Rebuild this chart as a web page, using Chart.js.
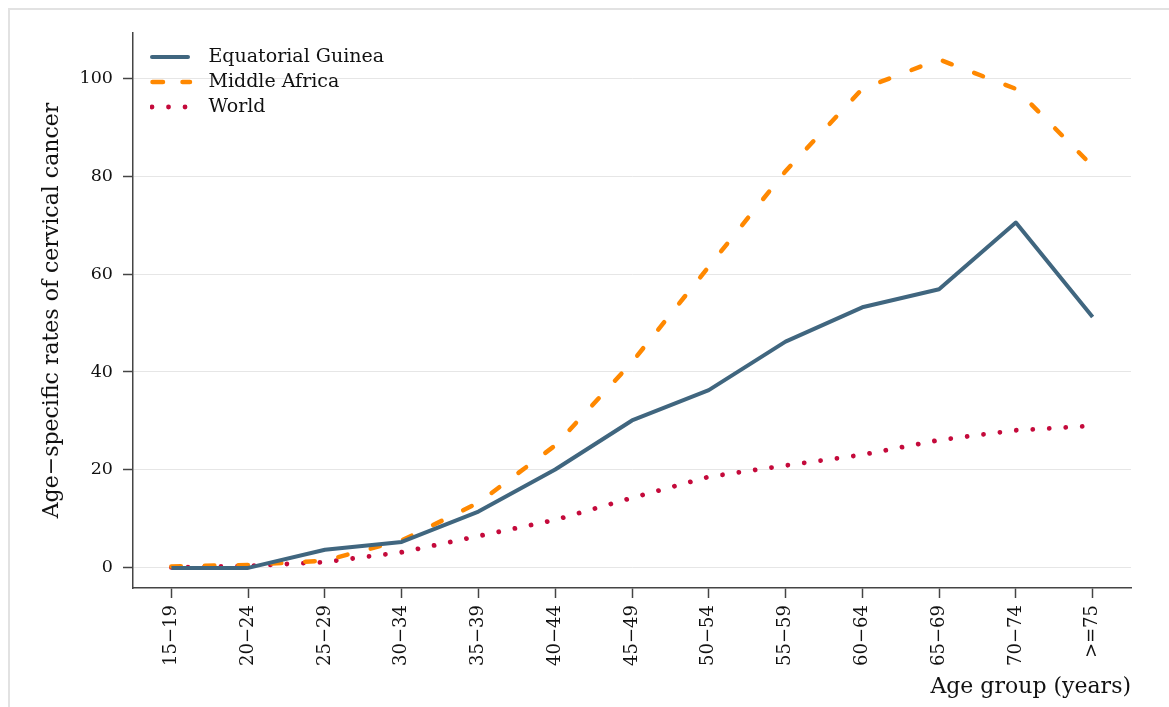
<!DOCTYPE html>
<html>
<head>
<meta charset="utf-8">
<script src="https://cdn.jsdelivr.net/npm/chart.js@4.4.1/dist/chart.umd.min.js"></script>
<style>
  html, body { margin: 0; padding: 0; background: #fff; overflow: hidden; }
  #clip { position: absolute; left: 0; top: 0; width: 1169px; height: 707px; overflow: hidden; }
  #frame { position: absolute; left: 8px; top: 8px; width: 1400px; height: 900px;
           border-left: 2px solid #e2e2e2; border-top: 2px solid #e2e2e2; }
  #wrap { position: absolute; left: 0; top: 0; width: 1169px; height: 707px; }
</style>
</head>
<body>
<div id="clip">
  <div id="frame"></div>
  <div id="wrap"><canvas id="chart"></canvas></div>
</div>
<script>
// age groups on the x axis
const ageGroups = ['15−19', '20−24', '25−29', '30−34', '35−39', '40−44', '45−49',
                   '50−54', '55−59', '60−64', '65−69', '70−74', '>=75'];

// rates per 100,000
const eqGuinea     = [0.0, 0.0, 3.7, 5.3, 11.5, 20.1, 30.1, 36.3, 46.2, 53.2, 56.9, 70.5, 51.2];
const middleAfrica = [0.3, 0.6, 1.5, 5.6, 13.3, 25.0, 42.0, 61.5, 81.0, 97.8, 103.8, 97.8, 82.0];
const world        = [0.1, 0.4, 1.2, 3.2, 6.5, 9.8, 14.3, 18.6, 20.9, 23.1, 26.1, 28.1, 29.0];

const yTicks = [0, 20, 40, 60, 80, 100];

const FONT = '"DejaVu Serif", serif';
const NAVY = '#40667f';
const ORANGE = '#ff8800';
const CRIMSON = '#c40a3b';

// small legend samples, so the text sits where it does in the original
const makeSample = (color, width, dash, cap, x0, x1) => {
    const c = document.createElement('canvas');
    c.width = 49;
    c.height = 10;
    const g = c.getContext('2d');
    g.strokeStyle = color;
    g.lineWidth = width;
    g.lineCap = cap;
    g.setLineDash(dash);
    g.beginPath();
    g.moveTo(x0, 5);
    g.lineTo(x1, 5);
    g.stroke();
    return c;
};

const samples = [
    makeSample(NAVY, 4, [], 'round', 2, 38),
    makeSample(ORANGE, 4.5, [10.5, 19.5], 'round', 2.5, 40),
    makeSample(CRIMSON, 4.8, [0.01, 16.5], 'round', 2, 40)
];

// move the legend inside the plot, top-left
const legendPos = {
    id: 'legendPos',
    afterLayout(chart) {
        const lg = chart.legend;
        const ca = chart.chartArea;
        lg.left = ca.left + 11;
        lg.top = ca.top + 8.5;
        lg.right = lg.left + lg.width;
        lg.bottom = lg.top + lg.height;
    }
};

const ctx = document.getElementById('chart').getContext('2d');
new Chart(ctx, {
    type: 'line',
    data: {
        labels: ageGroups,
        datasets: [
            {
                label: 'Equatorial Guinea',
                data: eqGuinea,
                borderColor: NAVY,
                backgroundColor: NAVY,
                borderWidth: 4,
                pointRadius: 0,
                tension: 0,
                borderJoinStyle: 'round'
            },
            {
                label: 'Middle Africa',
                data: middleAfrica,
                borderColor: ORANGE,
                backgroundColor: ORANGE,
                borderWidth: 4.5,
                borderDash: [9.5, 24],
                borderCapStyle: 'round',
                pointRadius: 0,
                tension: 0
            },
            {
                label: 'World',
                data: world,
                borderColor: CRIMSON,
                backgroundColor: CRIMSON,
                borderWidth: 4.8,
                borderDash: [0.01, 16.5],
                borderCapStyle: 'round',
                pointRadius: 0,
                tension: 0
            }
        ]
    },
    options: {
        responsive: true,
        maintainAspectRatio: false,
        animation: false,
        layout: { padding: { left: 0, top: 33, right: 38, bottom: 0 } },
        plugins: {
            tooltip: { enabled: false },
            legend: {
                position: 'chartArea',
                align: 'start',
                labels: {
                    usePointStyle: true,
                    pointStyleWidth: 49,
                    boxHeight: 10,
                    padding: 6,
                    color: '#111',
                    font: { family: FONT, size: 19 },
                    generateLabels: (chart) =>
                        Chart.defaults.plugins.legend.labels.generateLabels(chart)
                            .map((it, i) => Object.assign(it, { pointStyle: samples[i] }))
                }
            }
        },
        scales: {
            x: {
                type: 'category',
                offset: true,
                afterFit: (s) => { s.height = 119; },
                grid: { offset: false, drawOnChartArea: false, tickColor: '#444', tickLength: 10, tickWidth: 1.5 },
                border: { color: '#444', width: 1.5 },
                ticks: {
                    minRotation: 90, maxRotation: 90, autoSkip: false, padding: 7,
                    color: '#111', font: { family: FONT, size: 18 }
                },
                title: {
                    display: true, text: 'Age group (years)', align: 'end', color: '#111',
                    font: { family: FONT, size: 22 }, padding: { top: 0, bottom: 7 }
                }
            },
            y: {
                min: -4.1,
                max: 109.2,
                afterBuildTicks: (s) => { s.ticks = yTicks.map(v => ({ value: v })); },
                afterFit: (s) => { s.width = 133; },
                grid: { color: '#e6e6e6', lineWidth: 1, tickColor: '#444', tickLength: 10, tickWidth: 1.5 },
                border: { color: '#444', width: 1.5 },
                ticks: { color: '#111', font: { family: FONT, size: 17.5 }, padding: 10 },
                title: {
                    display: true, text: 'Age−specific rates of cervical cancer', color: '#111',
                    font: { family: FONT, size: 22 }, padding: { top: 39, bottom: 0 }
                }
            }
        }
    },
    plugins: [legendPos]
});
</script>
</body>
</html>
